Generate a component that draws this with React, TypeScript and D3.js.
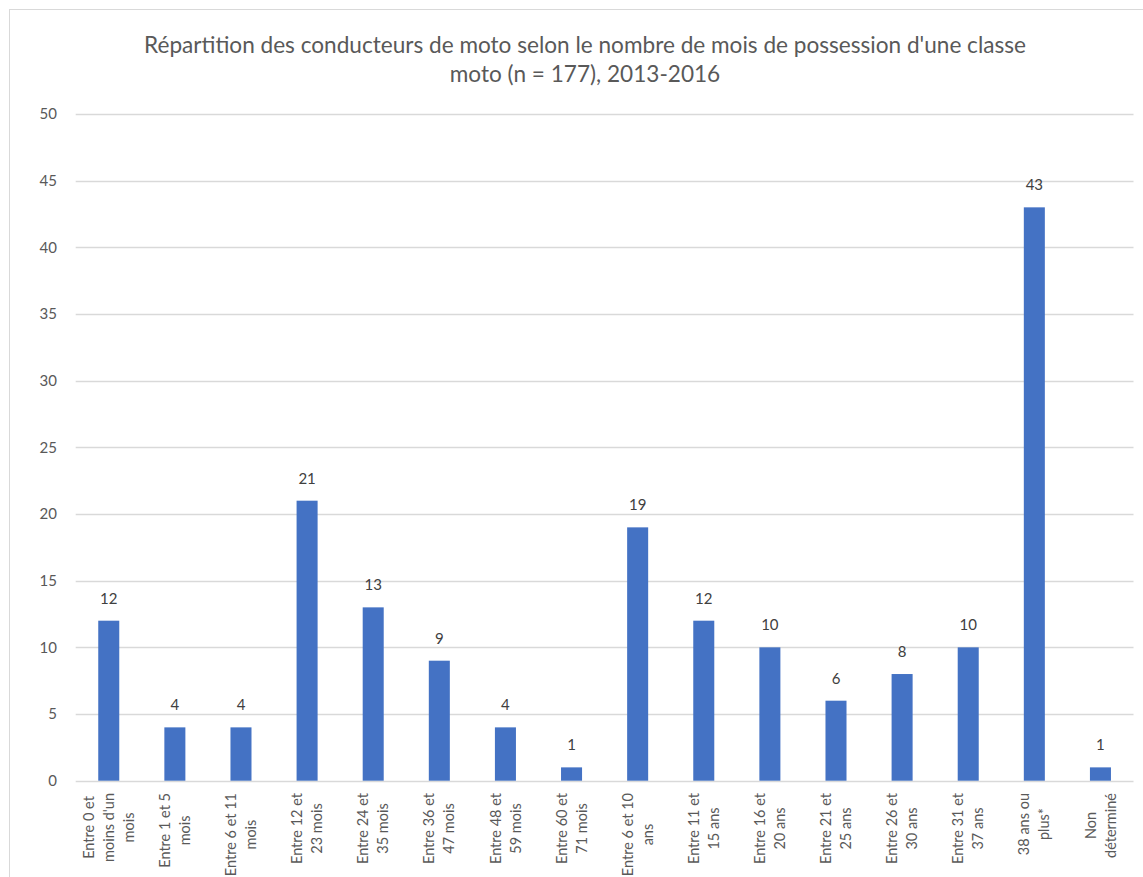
import React, { useEffect, useRef } from "react";
import * as d3 from "d3";

const titleLines = [
  "Répartition des conducteurs de moto selon le nombre de mois de possession d'une classe",
  "moto (n = 177), 2013-2016",
];

const categories = [
  ["Entre 0 et", "moins d'un", "mois"],
  ["Entre 1 et 5", "mois"],
  ["Entre 6 et 11", "mois"],
  ["Entre 12 et", "23 mois"],
  ["Entre 24 et", "35 mois"],
  ["Entre 36 et", "47 mois"],
  ["Entre 48 et", "59 mois"],
  ["Entre 60 et", "71 mois"],
  ["Entre 6 et 10", "ans"],
  ["Entre 11 et", "15 ans"],
  ["Entre 16 et", "20  ans"],
  ["Entre 21 et", "25 ans"],
  ["Entre 26 et", "30 ans"],
  ["Entre 31 et", "37 ans"],
  ["38 ans ou", "plus*"],
  ["Non", "déterminé"],
];

const values = [12, 4, 4, 21, 13, 9, 4, 1, 19, 12, 10, 6, 8, 10, 43, 1];

const yTicks = [0, 5, 10, 15, 20, 25, 30, 35, 40, 45, 50];

const FONT = "Lato, 'Liberation Sans', sans-serif";

export default function App() {
  const ref = useRef<SVGSVGElement>(null);

  useEffect(() => {
    const svg = d3.select(ref.current);
    svg.selectAll("*").remove();

    const left = 75.7;
    const right = 1133.5;
    const top = 114;
    const bottom = 780.7;

    const x = d3
      .scaleBand<number>()
      .domain(values.map((_, i) => i))
      .range([left, right])
      .paddingInner(0.682)
      .paddingOuter(0.341);
    const y = d3.scaleLinear().domain([0, 50]).range([bottom, top]);

    svg
      .append("rect")
      .attr("x", 9.5)
      .attr("y", 9.5)
      .attr("width", 1160)
      .attr("height", 900)
      .attr("fill", "#fff")
      .attr("stroke", "#d9d9d9")
      .attr("stroke-width", 1);

    // title
    const title = svg
      .append("text")
      .attr("text-anchor", "middle")
      .attr("font-family", FONT)
      .attr("font-size", 22.6)
      .attr("fill", "#595959");
    titleLines.forEach((t, i) => {
      title
        .append("tspan")
        .attr("x", 585)
        .attr("y", 53 + i * 29)
        .text(t);
    });

    // gridlines
    svg
      .append("g")
      .selectAll("line")
      .data(yTicks)
      .join("line")
      .attr("x1", left)
      .attr("x2", right)
      .attr("y1", (d) => Math.round(y(d)) + 0.5)
      .attr("y2", (d) => Math.round(y(d)) + 0.5)
      .attr("stroke", "#d9d9d9")
      .attr("stroke-width", 1.3);

    // y tick labels
    svg
      .append("g")
      .selectAll("text")
      .data(yTicks)
      .join("text")
      .attr("x", 57)
      .attr("y", (d) => y(d))
      .attr("dy", "0.35em")
      .attr("text-anchor", "end")
      .attr("font-family", FONT)
      .attr("font-size", 15)
      .attr("fill", "#595959")
      .text((d) => String(d));

    // bars
    svg
      .append("g")
      .selectAll("rect")
      .data(values)
      .join("rect")
      .attr("x", (_, i) => x(i)!)
      .attr("width", x.bandwidth())
      .attr("y", (d) => y(d))
      .attr("height", (d) => bottom - y(d))
      .attr("fill", "#4472c4");

    // data labels
    svg
      .append("g")
      .selectAll("text")
      .data(values)
      .join("text")
      .attr("x", (_, i) => x(i)! + x.bandwidth() / 2)
      .attr("y", (d) => y(d) - 17)
      .attr("text-anchor", "middle")
      .attr("font-family", FONT)
      .attr("font-size", 15)
      .attr("fill", "#404040")
      .text((d) => String(d));

    // x labels
    const lineH = 20;
    const fs = 14.5;
    categories.forEach((lines, i) => {
      const cx = x(i)! + x.bandwidth() / 2;
      const g = svg.append("g");
      const texts = lines.map((l) =>
        g
          .append("text")
          .attr("font-family", FONT)
          .attr("font-size", fs)
          .attr("fill", "#595959")
          .attr("text-anchor", "middle")
          .text(l)
      );
      const widths = texts.map((t) => (t.node() as SVGTextElement).getComputedTextLength());
      const maxW = Math.max(...widths);
      const cy = 793 + maxW / 2;
      const n = lines.length;
      texts.forEach((t, j) => {
        const lx = cx + (j - (n - 1) / 2) * lineH + fs * 0.35;
        t.attr("transform", `translate(${lx},${cy}) rotate(-90)`);
      });
    });
  }, []);

  return (
    <svg
      ref={ref}
      width={1143}
      height={877}
      style={{ position: "absolute", left: 0, top: 0, display: "block" }}
    />
  );
}
